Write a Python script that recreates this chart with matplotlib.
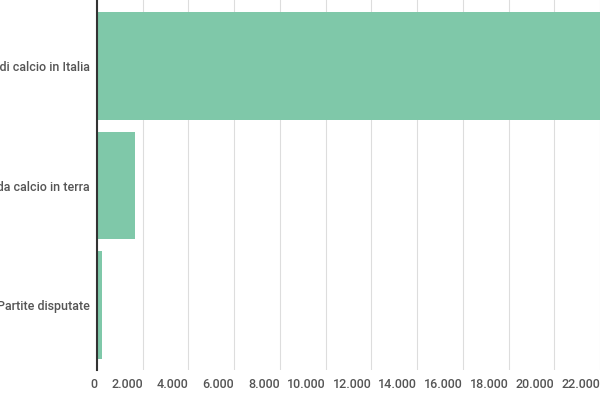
import matplotlib
matplotlib.use("Agg")
import matplotlib.pyplot as plt
import matplotlib.transforms as mt

plt.rcParams['font.family'] = ['Roboto', 'DejaVu Sans']

categories = ["Squadre di calcio in Italia", "Campi da calcio in terra", "Partite disputate"]
values = [22600, 1650, 200]
ticks = list(range(0, 22001, 2000))
tick_labels = ["0"] + [f"{t//1000}.000" for t in ticks[1:]]

fig = plt.figure(figsize=(6, 4), dpi=100)
ax = fig.add_axes([97/600, 30/400, 1 - 97/600, 370/400])
ax.barh(range(len(categories)), values, height=0.9, color="#7fc8a9", zorder=2)
ax.set_xlim(0, 22000)
ax.set_ylim(2.54, -0.55)
ax.set_yticks(range(len(categories)))
ax.set_yticklabels(categories, fontsize=9, color="#555555", fontweight="medium")
ax.set_xticks(ticks)
ax.set_xticklabels(tick_labels, fontsize=9, color="#555555", ha="right", fontweight="medium")
off = mt.ScaledTranslation(-3/72, 0, fig.dpi_scale_trans)
for lbl in ax.get_xticklabels():
    lbl.set_transform(lbl.get_transform() + off)
ax.tick_params(length=0, pad=6)
ax.tick_params(axis='y', pad=5)
ax.grid(axis='x', color="#dddddd", linewidth=0.8, zorder=0)
for s in ["top", "right", "bottom"]:
    ax.spines[s].set_visible(False)
ax.spines["left"].set_color("#333333")
ax.spines["left"].set_linewidth(1.5)
ax.spines["left"].set_zorder(3)
fig.savefig("out.png", dpi=100)
